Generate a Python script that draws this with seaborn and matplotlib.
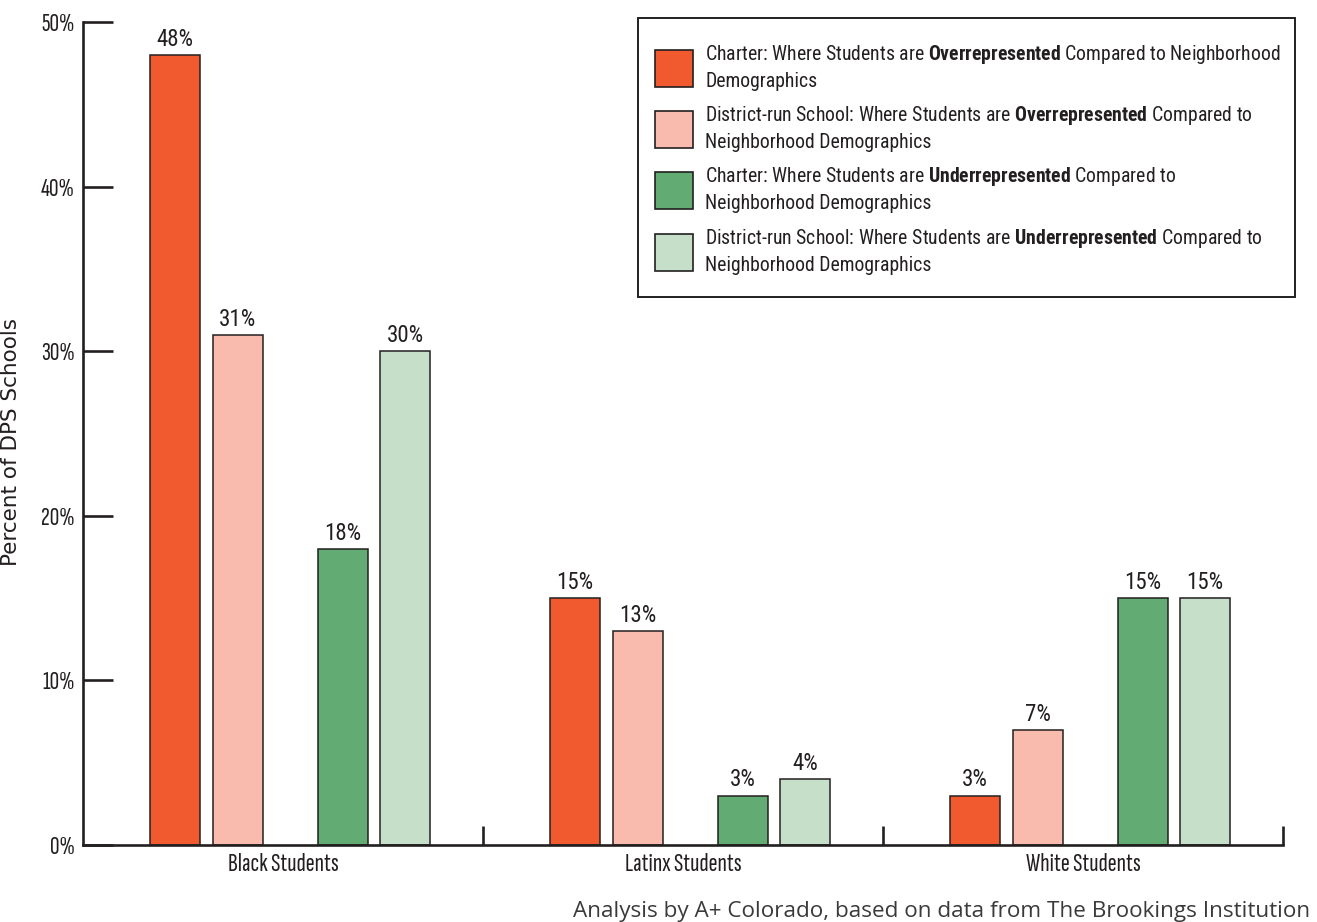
import matplotlib
matplotlib.use("Agg")
import matplotlib.pyplot as plt
import matplotlib.patches as mpatches
import pandas as pd
import seaborn as sns

# ---- data ----
categories = ["Black Students", "Latinx Students", "White Students"]
charter_over = [48, 15, 3]
district_over = [31, 13, 7]
charter_under = [18, 3, 15]
district_under = [30, 4, 15]

series_labels = [
    "Charter: Where Students are $\\mathbf{Overrepresented}$ Compared to Neighborhood\nDemographics",
    "District-run School: Where Students are $\\mathbf{Overrepresented}$ Compared to\nNeighborhood Demographics",
    "Charter: Where Students are $\\mathbf{Underrepresented}$ Compared to\nNeighborhood Demographics",
    "District-run School: Where Students are $\\mathbf{Underrepresented}$ Compared to\nNeighborhood Demographics",
]
y_ticks = [0, 10, 20, 30, 40, 50]
y_tick_labels = [f"{t}%" for t in y_ticks]
caption = "Analysis by A+ Colorado, based on data from The Brookings Institution"
y_title = "Percent of DPS Schools"

# ---- style ----
colors = ["#F15A2F", "#F8BBAE", "#62AB73", "#C5DFC9"]
offsets = [-0.27, -0.11375, 0.14875, 0.305]   # bar centres within each group
dark = "#231f20"
cond = "Roboto Condensed"
narrow = "Sofia Sans Extra Condensed"

sns.set_style("white")
plt.rcParams["font.family"] = [cond, "DejaVu Sans"]
plt.rcParams["mathtext.fontset"] = "custom"
plt.rcParams["mathtext.rm"] = cond
plt.rcParams["mathtext.bf"] = cond + ":bold"
plt.rcParams["mathtext.it"] = cond + ":italic"
plt.rcParams["text.color"] = dark
plt.rcParams["axes.labelcolor"] = dark
plt.rcParams["xtick.color"] = dark
plt.rcParams["ytick.color"] = dark

rows = []
for s_idx, vals in enumerate([charter_over, district_over, charter_under, district_under]):
    for g_idx, v in enumerate(vals):
        rows.append({"pos": g_idx + offsets[s_idx], "value": v, "series": series_labels[s_idx]})
df = pd.DataFrame(rows)

fig = plt.figure(figsize=(13.17, 9.22), dpi=100)
ax = fig.add_axes([83 / 1317, 77 / 922, 1200 / 1317, 823 / 922])

sns.barplot(
    data=df, x="pos", y="value", hue="series", hue_order=series_labels,
    palette=colors, native_scale=True, dodge=False, width=0.8,
    saturation=1, errorbar=None, edgecolor=dark, linewidth=1.1,
    legend=False, ax=ax,
)

ax.set_xlim(-0.5, 2.5)
ax.set_ylim(0, 50)

# axes frame
for side in ("top", "right"):
    ax.spines[side].set_visible(False)
for side in ("left", "bottom"):
    ax.spines[side].set_linewidth(1.9)
    ax.spines[side].set_color(dark)

ax.set_xticks([0, 1, 2], categories)
ax.set_xticks([0.5, 1.5, 2.5], minor=True)
ax.tick_params(axis="x", which="major", bottom=True, length=0, pad=6)
ax.tick_params(axis="x", which="minor", bottom=True, direction="in", length=14, width=1.9, color=dark)
ax.set_yticks(y_ticks, y_tick_labels)
ax.tick_params(axis="y", left=True, direction="in", length=21.6, width=1.9, pad=6, color=dark)
for lab in ax.get_xticklabels():
    lab.set_fontfamily([narrow, cond])
    lab.set_fontsize(19.5)
for lab in ax.get_yticklabels():
    lab.set_fontfamily([narrow, cond])
    lab.set_fontsize(19)
ax.set_xlabel("")
ax.set_ylabel(y_title, fontsize=15.5, family="DejaVu Sans", color=dark)
ax.yaxis.set_label_coords(-0.052, 0.49)

# value labels above bars
for cont in ax.containers:
    ax.bar_label(cont, labels=[f"{v:g}%" for v in cont.datavalues],
                 padding=3, fontsize=16.5, color=dark)

# legend entries, with a separate outline box around them
handles = [mpatches.Patch(facecolor=c, edgecolor=dark, linewidth=1.2) for c in colors]
leg = ax.legend(
    handles, series_labels, loc="upper left",
    bbox_to_anchor=(655 / 1317, 1 - 43 / 922), bbox_transform=fig.transFigure,
    fontsize=14.2, frameon=False,
    handlelength=1.93, handleheight=2.5, handletextpad=0.61,
    labelspacing=0.67, borderpad=0, borderaxespad=0,
)
for t in leg.get_texts():
    t.set_linespacing(1.4)
    t.set_color(dark)

legend_box = mpatches.Rectangle(
    (638 / 1317, 1 - 297 / 922), 657 / 1317, 279 / 922,
    transform=fig.transFigure, fill=False, edgecolor=dark, linewidth=1.4,
)
fig.add_artist(legend_box)

fig.text(1310 / 1317, 1 - 917 / 922, caption, ha="right", va="baseline",
         family="Open Sans", fontsize=16.2, color="#3a3a3a")

fig.savefig("out.png", dpi=100)
